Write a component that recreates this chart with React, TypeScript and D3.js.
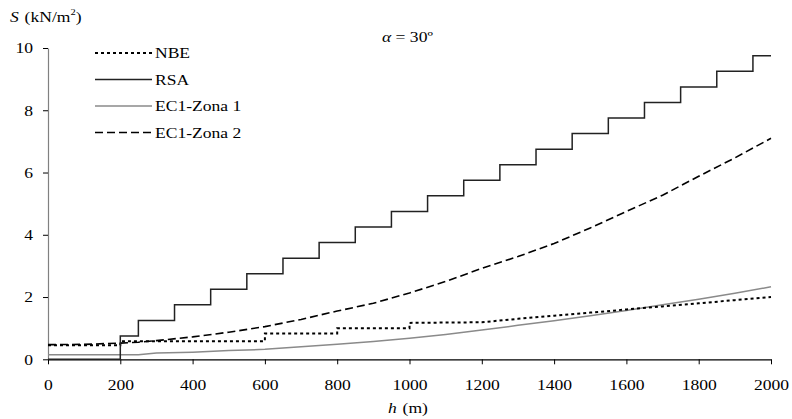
import React, { useEffect, useRef } from 'react';
import * as d3 from 'd3';

// values
const xTicks = [0, 200, 400, 600, 800, 1000, 1200, 1400, 1600, 1800, 2000];
const yTicks = [0, 2, 4, 6, 8, 10];

const rsaH = [0, 200, 250, 350, 450, 550, 650, 750, 850, 950, 1050, 1150, 1250, 1350, 1450, 1550, 1650, 1750, 1850, 1950, 2000];
const rsaS = [0, 0.75, 1.25, 1.75, 2.25, 2.75, 3.25, 3.75, 4.25, 4.75, 5.25, 5.75, 6.25, 6.75, 7.25, 7.75, 8.25, 8.75, 9.25, 9.75, 9.75];

const nbeH = [0, 200, 200, 600, 600, 800, 800, 1000, 1000, 1200, 1300, 1400, 1500, 1600, 1700, 1800, 1900, 2000];
const nbeS = [0.45, 0.45, 0.58, 0.58, 0.83, 0.83, 1.0, 1.0, 1.17, 1.19, 1.3, 1.4, 1.5, 1.6, 1.7, 1.8, 1.9, 2.0];

const ecH = [0, 100, 200, 250, 300, 400, 500, 600, 700, 800, 900, 1000, 1100, 1200, 1300, 1400, 1500, 1600, 1700, 1800, 1900, 2000];
const zona1S = [0.15, 0.15, 0.15, 0.15, 0.2, 0.23, 0.28, 0.32, 0.4, 0.48, 0.57, 0.68, 0.8, 0.94, 1.09, 1.24, 1.4, 1.57, 1.75, 1.93, 2.12, 2.33];
const zona2S = [0.47, 0.48, 0.52, 0.55, 0.6, 0.72, 0.87, 1.05, 1.28, 1.55, 1.8, 2.13, 2.5, 2.92, 3.3, 3.72, 4.22, 4.75, 5.27, 5.88, 6.47, 7.1];

const legendItems = [
  { label: 'NBE', stroke: '#000', width: 2, dash: '3,3' },
  { label: 'RSA', stroke: '#222', width: 1.5, dash: null },
  { label: 'EC1-Zona 1', stroke: '#8a8a8a', width: 1.5, dash: null },
  { label: 'EC1-Zona 2', stroke: '#000', width: 1.6, dash: '8,4' },
];

const W = 792;
const H = 419;
const font = '"Liberation Serif", "Times New Roman", serif';
const fs = '15px';
const sx = 1.17; // the source figure's text is a bit stretched horizontally

const App = () => {
  const svgRef = useRef<SVGSVGElement>(null);

  useEffect(() => {
    document.body.style.margin = '0';
    if (!svgRef.current) return;
    const svg = d3.select(svgRef.current);
    svg.selectAll('*').remove();

    const x = d3.scaleLinear().domain([0, 2000]).range([48, 771]);
    const y = d3.scaleLinear().domain([0, 10]).range([359.3, 48]);

    const line = d3.line<[number, number]>()
      .x(d => x(d[0]))
      .y(d => y(d[1]));

    const rsaLine = d3.line<[number, number]>()
      .x(d => x(d[0]))
      .y(d => y(d[1]))
      .curve(d3.curveStepAfter);

    // stretched text placed at (tx, ty)
    const label = (tx: number, ty: number) =>
      svg.append('g')
        .attr('transform', `translate(${tx},${ty}) scale(${sx},1)`)
        .append('text')
        .style('font-family', font)
        .style('font-size', fs)
        .attr('fill', '#000');

    // Y axis
    const yAxis = svg.append('g')
      .attr('transform', `translate(${x(0)},0)`)
      .call(d3.axisLeft(y).tickValues(yTicks).tickFormat(d3.format('d')).tickSize(5).tickSizeOuter(0));
    yAxis.attr('font-family', null).attr('font-size', null);
    yAxis.select('.domain').attr('stroke', '#808080').attr('stroke-width', 1.2);
    yAxis.selectAll('line').attr('stroke', '#000');
    yAxis.selectAll('text')
      .style('font-family', font)
      .style('font-size', fs)
      .attr('fill', '#000')
      .attr('x', -15 / sx)
      .attr('transform', `scale(${sx},1)`);

    // X axis
    const xAxis = svg.append('g')
      .attr('transform', `translate(0,${y(0)})`)
      .call(d3.axisBottom(x).tickValues(xTicks).tickFormat(d3.format('d')).tickSize(5).tickSizeOuter(0));
    xAxis.attr('font-family', null).attr('font-size', null);
    xAxis.select('.domain').attr('stroke', '#000').attr('stroke-width', 1.2);
    xAxis.selectAll('line').attr('stroke', '#000');
    xAxis.selectAll('text')
      .style('font-family', font)
      .style('font-size', fs)
      .attr('fill', '#000')
      .attr('y', 20)
      .attr('transform', `scale(${sx},1)`);

    // series
    svg.append('path')
      .datum(ecH.map((h, i) => [h, zona1S[i]] as [number, number]))
      .attr('fill', 'none')
      .attr('stroke', '#8a8a8a')
      .attr('stroke-width', 1.5)
      .attr('d', line);

    svg.append('path')
      .datum(ecH.map((h, i) => [h, zona2S[i]] as [number, number]))
      .attr('fill', 'none')
      .attr('stroke', '#000')
      .attr('stroke-width', 1.6)
      .attr('stroke-dasharray', '8,4')
      .attr('d', line);

    svg.append('path')
      .datum(nbeH.map((h, i) => [h, nbeS[i]] as [number, number]))
      .attr('fill', 'none')
      .attr('stroke', '#000')
      .attr('stroke-width', 2)
      .attr('stroke-dasharray', '3,3')
      .attr('d', line);

    svg.append('path')
      .datum(rsaH.map((h, i) => [h, rsaS[i]] as [number, number]))
      .attr('fill', 'none')
      .attr('stroke', '#222')
      .attr('stroke-width', 1.5)
      .attr('d', rsaLine);

    // legend
    legendItems.forEach((item, i) => {
      const ly = 53 + i * 26.5;
      svg.append('line')
        .attr('x1', 95).attr('x2', 152)
        .attr('y1', ly).attr('y2', ly)
        .attr('stroke', item.stroke)
        .attr('stroke-width', item.width)
        .attr('stroke-dasharray', item.dash);
      label(155, ly + 5).text(item.label);
    });

    // axis titles
    const yTitle = label(10, 22);
    yTitle.append('tspan').attr('font-style', 'italic').text('S');
    yTitle.append('tspan').attr('dx', 5).text('(kN/m');
    yTitle.append('tspan').style('font-size', '9px').attr('dy', -7).text('2');
    yTitle.append('tspan').attr('dy', 7).text(')');

    const xTitle = label(388, 413);
    xTitle.append('tspan').attr('font-style', 'italic').text('h');
    xTitle.append('tspan').attr('dx', 5).text('(m)');

    const alpha = label(382, 42);
    alpha.append('tspan').attr('font-style', 'italic').text('α');
    alpha.append('tspan').text(' = 30º');
  }, []);

  return <svg ref={svgRef} width={W} height={H} style={{ display: 'block', background: '#fff' }} />;
};

export default App;
